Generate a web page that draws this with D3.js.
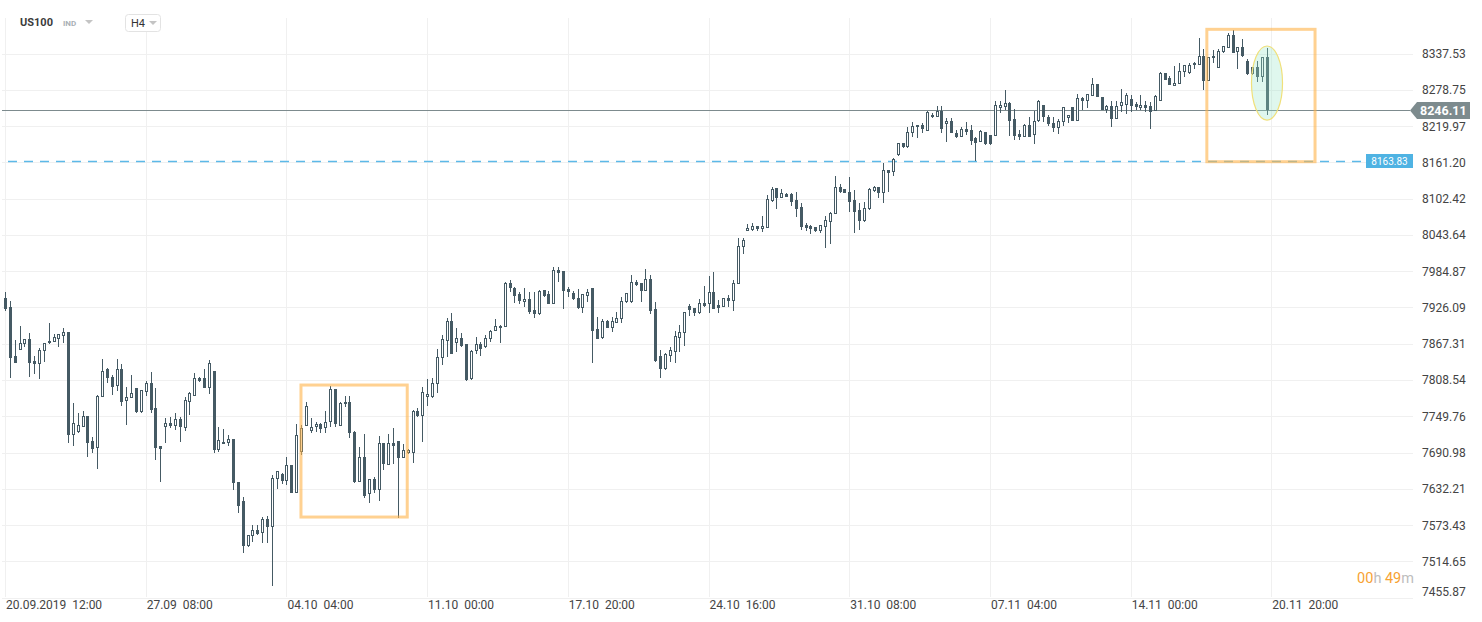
<!DOCTYPE html>
<html>
<head>
<meta charset="utf-8">
<script src="https://cdn.jsdelivr.net/npm/d3@7"></script>
<style>
  html, body { margin: 0; padding: 0; background: #fff; }
  svg { display: block; font-family: Roboto, "Open Sans", Arial, sans-serif; }
  text { white-space: pre; }
</style>
</head>
<body>
<svg width="1482" height="622"></svg>
<script>
// US100, H4 candles, 20.09.2019 12:00 -> 20.11.2019
const opens = [
  7940.8,7926.7,7847.3,7857.5,7866.2,7874.3,7839.2,7833.8,7855.4,7867.9,7869.5,7875.3,7880.2,7885.7,7719.7,7724.6,7732.6,7749.5,7709.0,7698.6,
  7780.3,7826.2,7813.3,7799.2,7826.2,7773.8,7778.7,7794.9,7757.0,7789.4,7803.0,7762.5,7701.4,7732.6,7738.2,7734.3,7744.7,7731.0,7773.2,7782.9,
  7811.1,7811.1,7794.9,7823.0,7695.7,7704.6,7705.8,7712.2,7642.6,7612.3,7539.8,7556.0,7565.2,7559.9,7582.6,7570.6,7647.4,7655.5,7645.2,7670.6,
  7625.7,7691.7,7733.8,7726.2,7731.7,7737.0,7730.1,7739.8,7793.8,7733.8,7768.9,7772.7,7724.6,7643.6,7683.1,7623.1,7647.9,7630.1,7705.8,7670.6,
  7705.8,7709.5,7682.4,7690.5,7689.5,7758.1,7750.0,7780.3,7781.3,7801.4,7843.5,7872.1,7904.0,7867.9,7876.0,7866.2,7810.0,7855.4,7866.2,7862.3,
  7874.8,7887.8,7895.9,7893.8,7965.1,7957.9,7947.2,7935.3,7939.6,7921.8,7914.8,7954.2,7947.2,7931.0,7986.6,7985.0,7955.8,7949.9,7941.7,7925.5,
  7945.0,7957.9,7891.0,7876.0,7904.0,7893.1,7901.2,7906.7,7934.3,7934.3,7966.7,7965.1,7953.1,7971.6,7922.9,7847.3,7825.7,7847.8,7854.2,7876.9,
  7884.1,7928.3,7924.6,7917.5,7932.7,7931.0,7950.5,7929.9,7926.2,7940.8,7936.9,7963.5,8024.4,8050.3,8051.5,8057.9,8053.1,8055.2,8098.9,8119.0,
  8103.8,8109.8,8109.8,8100.1,8089.2,8059.6,8057.9,8055.8,8049.9,8056.8,8064.9,8076.9,8120.7,8117.9,8113.5,8100.1,8083.9,8066.5,8085.0,8115.1,
  8120.7,8110.9,8148.7,8145.0,8173.0,8191.9,8185.5,8209.2,8217.9,8221.6,8211.9,8234.1,8235.1,8244.8,8222.8,8228.1,8209.2,8202.7,8214.6,8213.5,
  8200.1,8194.6,8209.8,8205.4,8203.8,8249.7,8251.3,8256.8,8230.9,8207.1,8202.7,8221.6,8205.4,8228.1,8254.1,8235.1,8224.4,8217.3,8226.0,8232.5,
  8250.3,8228.6,8264.9,8261.0,8269.1,8288.1,8266.5,8246.0,8253.0,8230.9,8253.0,8254.1,8263.3,8255.7,8249.7,8254.1,8252.4,8244.3,8261.0,8306.4,
  8297.3,8285.3,8287.6,8308.0,8306.4,8318.9,8318.9,8333.5,8293.4,8329.7,8314.5,8340.4,8346.9,8367.5,8339.5,8347.6,8325.9,8303.8,8315.2,8299.9,
  8331.4
];
const highs = [
  7950.5,7936.4,7873.2,7895.9,7874.3,7885.0,7847.3,7859.8,7867.9,7900.7,7882.4,7882.4,7892.2,7887.0,7770.6,7754.3,7758.1,7749.5,7716.5,7784.0,
  7841.9,7827.8,7816.5,7841.9,7833.8,7797.5,7816.5,7794.9,7791.7,7807.2,7821.3,7794.9,7701.4,7746.3,7747.9,7754.3,7747.9,7780.3,7789.4,7819.2,
  7813.3,7825.7,7840.8,7823.0,7732.6,7729.0,7719.2,7712.2,7642.6,7619.2,7557.1,7573.3,7573.3,7586.8,7587.9,7654.4,7660.9,7658.1,7683.1,7671.5,
  7736.6,7735.4,7773.2,7746.3,7740.8,7739.2,7758.1,7798.6,7793.8,7773.2,7782.4,7782.4,7726.0,7700.3,7720.8,7647.9,7651.7,7717.6,7705.8,7720.8,
  7730.1,7709.5,7704.6,7697.0,7759.7,7763.0,7797.5,7809.5,7812.2,7858.6,7881.3,7909.3,7916.4,7893.1,7884.0,7866.2,7857.0,7878.5,7869.5,7881.3,
  7889.4,7907.2,7897.5,7967.7,7970.4,7959.6,7950.5,7957.0,7951.5,7951.5,7954.0,7954.2,7952.6,7991.0,7992.0,7985.0,7959.6,7952.6,7955.3,7947.2,
  7955.3,7957.9,7910.0,7907.2,7905.6,7911.0,7918.1,7942.4,7949.4,7978.5,7970.4,7965.1,7987.8,7978.5,7935.3,7857.0,7852.0,7861.3,7888.3,7897.5,
  7918.1,7931.5,7924.6,7939.1,7960.7,7976.9,7982.9,7938.0,7941.0,7946.1,7970.4,8038.0,8039.0,8061.2,8062.3,8057.9,8074.2,8108.2,8121.6,8119.0,
  8117.4,8111.9,8111.9,8112.6,8094.7,8062.3,8059.6,8056.8,8059.6,8074.7,8081.1,8139.5,8126.0,8118.0,8136.9,8116.3,8094.7,8097.3,8119.0,8122.8,
  8120.7,8160.5,8148.7,8167.7,8193.0,8192.0,8218.9,8227.0,8221.1,8225.4,8244.8,8240.6,8252.4,8252.4,8233.5,8232.5,8213.5,8218.9,8226.0,8221.6,
  8202.7,8213.0,8210.0,8205.4,8261.0,8261.0,8278.4,8259.4,8247.1,8213.5,8222.8,8235.1,8244.8,8262.2,8254.1,8237.9,8234.1,8230.9,8250.3,8237.9,
  8250.5,8271.9,8267.5,8271.4,8298.3,8288.1,8266.5,8254.1,8260.5,8260.5,8279.5,8274.0,8270.3,8259.4,8270.3,8260.5,8259.4,8270.3,8308.0,8306.4,
  8301.6,8317.8,8321.6,8318.9,8321.6,8323.3,8362.2,8344.3,8332.0,8343.2,8344.3,8349.7,8370.2,8375.6,8347.6,8360.5,8328.1,8315.2,8325.9,8331.4,
  8345.9
];
const lows = [
  7920.2,7812.2,7836.0,7857.0,7862.3,7813.8,7818.6,7809.5,7838.1,7866.2,7869.5,7862.3,7867.9,7705.8,7701.9,7722.9,7732.6,7684.1,7690.5,7664.6,
  7780.3,7804.0,7784.0,7791.0,7766.7,7735.9,7778.7,7754.3,7754.3,7782.9,7754.3,7679.2,7643.1,7706.7,7731.0,7727.3,7708.4,7726.2,7751.6,7782.9,
  7805.6,7794.9,7785.7,7690.5,7692.2,7704.6,7701.9,7630.1,7592.3,7527.5,7537.2,7546.3,7557.1,7543.7,7543.7,7475.0,7631.7,7639.8,7638.2,7625.0,
  7624.7,7686.8,7733.8,7722.0,7724.6,7722.9,7722.9,7731.7,7731.7,7733.8,7765.1,7714.8,7642.0,7643.6,7616.6,7608.5,7624.7,7612.7,7662.5,7670.6,
  7672.2,7584.7,7681.4,7688.0,7673.3,7748.4,7708.4,7766.7,7778.7,7786.8,7832.7,7846.1,7850.0,7854.2,7862.3,7806.8,7809.0,7850.5,7847.7,7860.7,
  7869.5,7887.8,7868.8,7893.8,7950.5,7933.6,7931.5,7927.2,7915.3,7908.3,7913.0,7942.9,7931.0,7931.0,7966.7,7922.9,7942.4,7938.0,7922.9,7917.5,
  7935.3,7836.5,7874.3,7874.8,7893.1,7886.6,7900.2,7900.2,7934.0,7932.6,7960.7,7935.3,7952.0,7915.3,7838.1,7811.1,7824.0,7838.1,7835.4,7854.2,
  7864.0,7912.6,7912.1,7915.3,7927.0,7917.5,7922.9,7917.5,7926.0,7926.2,7920.6,7963.5,8012.6,8050.3,8050.3,8050.3,8048.7,8055.2,8097.3,8085.5,
  8103.8,8105.0,8090.4,8072.1,8051.5,8049.9,8044.9,8048.7,8047.1,8022.8,8028.8,8076.9,8111.9,8111.0,8081.1,8046.1,8051.5,8064.9,8083.9,8113.5,
  8103.8,8094.7,8113.5,8139.0,8171.4,8185.0,8183.9,8202.7,8201.1,8208.2,8211.9,8232.5,8235.1,8208.2,8194.6,8208.2,8200.1,8202.7,8205.4,8189.2,
  8163.83,8194.0,8190.0,8189.2,8203.8,8240.6,8246.0,8203.8,8197.3,8197.3,8202.7,8202.7,8190.9,8227.0,8227.0,8220.5,8210.8,8206.6,8220.5,8225.4,
  8228.0,8228.6,8246.0,8248.7,8269.1,8266.5,8246.0,8241.6,8218.9,8230.9,8243.2,8239.5,8243.2,8246.0,8246.0,8243.2,8215.1,8244.3,8261.0,8294.0,
  8286.5,8285.3,8287.6,8299.9,8303.8,8311.9,8318.9,8278.4,8293.0,8322.6,8314.5,8337.8,8346.9,8337.8,8311.9,8332.3,8302.7,8302.7,8291.8,8291.8,
  8237.9
];
const closes = [
  7923.4,7844.0,7836.5,7867.9,7874.3,7836.5,7833.8,7856.5,7867.9,7871.6,7877.6,7882.4,7885.7,7719.7,7738.2,7734.9,7749.5,7706.7,7697.0,7782.4,
  7822.5,7812.1,7797.5,7826.2,7772.2,7780.3,7786.8,7757.0,7791.7,7803.0,7760.2,7698.6,7697.0,7738.2,7733.8,7744.7,7732.6,7775.9,7786.8,7811.1,
  7807.2,7794.9,7835.4,7694.9,7710.6,7708.4,7712.2,7641.0,7604.6,7539.8,7557.1,7565.2,7558.8,7582.6,7570.6,7649.0,7660.9,7645.2,7670.6,7625.7,
  7719.2,7730.6,7766.2,7731.7,7737.0,7728.9,7740.8,7793.8,7737.0,7771.6,7772.7,7722.0,7643.6,7683.1,7620.9,7647.9,7630.1,7705.8,7672.2,7705.8,
  7701.4,7682.4,7694.9,7694.9,7758.1,7750.0,7788.4,7785.2,7803.0,7845.2,7874.3,7904.0,7850.0,7876.0,7864.0,7808.4,7855.8,7866.2,7858.1,7876.0,
  7887.8,7895.9,7892.2,7965.1,7957.9,7945.0,7936.9,7939.6,7919.1,7914.8,7952.6,7945.0,7931.0,7986.6,7982.2,7953.1,7951.5,7939.1,7925.5,7947.2,
  7950.5,7888.3,7874.3,7904.0,7893.1,7904.0,7908.3,7936.4,7948.9,7966.7,7962.3,7953.1,7971.6,7920.6,7839.2,7825.7,7850.5,7857.0,7879.7,7885.7,
  7918.1,7921.8,7917.5,7932.7,7928.3,7950.5,7922.9,7925.5,7940.8,7936.9,7965.1,8026.0,8035.3,8054.2,8057.9,8053.1,8057.9,8101.2,8117.9,8103.8,
  8110.9,8105.5,8097.3,8085.5,8056.8,8054.2,8053.1,8049.9,8059.6,8067.7,8079.5,8120.7,8113.5,8111.9,8097.3,8080.2,8066.5,8086.6,8117.4,8120.7,
  8110.9,8148.7,8144.4,8166.0,8191.9,8185.5,8210.8,8220.0,8221.1,8215.1,8243.2,8237.9,8244.8,8215.1,8228.1,8208.2,8201.7,8214.6,8210.8,8196.2,
  8192.9,8212.4,8190.4,8190.4,8254.1,8254.1,8256.8,8228.6,8204.3,8202.7,8221.6,8202.7,8228.6,8261.0,8234.1,8222.8,8217.3,8228.1,8250.3,8237.9,
  8228.6,8264.9,8261.0,8271.4,8288.1,8267.5,8246.0,8253.0,8231.4,8253.0,8258.4,8270.3,8252.4,8251.3,8254.1,8249.7,8243.2,8268.6,8306.4,8294.6,
  8286.5,8290.2,8309.6,8318.9,8318.9,8321.6,8333.5,8293.4,8331.4,8333.5,8342.1,8349.7,8367.5,8337.8,8347.6,8333.5,8303.8,8315.2,8299.9,8331.4,
  8246.11
];

// price axis ticks and time axis labels (one label every 29 bars)
const priceTicks = [8337.53, 8278.75, 8219.97, 8161.20, 8102.42, 8043.64, 7984.87, 7926.09,
                    7867.31, 7808.54, 7749.76, 7690.98, 7632.21, 7573.43, 7514.65, 7455.87];
const timeLabels = ["20.09.2019  12:00", "27.09  08:00", "04.10  04:00", "11.10  00:00", "17.10  20:00",
                    "24.10  16:00", "31.10  08:00", "07.11  04:00", "14.11  00:00", "20.11  20:00"];
const labelStep = 29;

const lastPrice = 8246.11;
const supportPrice = 8163.83;

// highlight boxes (bar index / price)
const boxFrom = [61, 247.7];
const boxTo = [82.9, 270];
const boxHigh = [7800.3, 8376.7];
const boxLow = [7586.4, 8162.2];

// ellipse around the last bar
const ellipseIdx = [256.9, 263.3];
const ellipsePrice = [8349.7, 8229.7];

const plotRight = 1413;
const plotTop = 18;
const plotBottom = 597;
const dark = "#455a64";
const gridColor = "#f0f0f0";

const svg = d3.select("svg");

const x = d3.scaleLinear().domain([0, 290]).range([5, 5 + 290 * 4.852]);
const y = d3.scaleLinear().domain([7455.87, 8337.53]).range([597.6, 53.5]);
const px = i => Math.round(x(i)) + 0.5;
const py = v => Math.round(y(v)) + 0.5;

// grid
const grid = svg.append("g").attr("class", "grid");
grid.selectAll("line.h")
  .data(priceTicks)
  .enter()
  .append("line")
  .attr("class", "h")
  .attr("x1", 2).attr("x2", plotRight)
  .attr("y1", d => py(d)).attr("y2", d => py(d))
  .attr("stroke", gridColor);

grid.selectAll("line.v")
  .data(timeLabels)
  .enter()
  .append("line")
  .attr("class", "v")
  .attr("x1", (d, i) => px(i * labelStep)).attr("x2", (d, i) => px(i * labelStep))
  .attr("y1", plotTop).attr("y2", plotBottom)
  .attr("stroke", gridColor);

// axes labels
svg.append("g")
  .selectAll("text")
  .data(priceTicks)
  .enter()
  .append("text")
  .attr("x", 1422)
  .attr("y", d => Math.min(y(d), 591) + 4.5)
  .style("font-size", "12px")
  .style("fill", "#444")
  .text(d => d.toFixed(2));

svg.append("g")
  .selectAll("text")
  .data(timeLabels)
  .enter()
  .append("text")
  .attr("x", (d, i) => x(i * labelStep) + 1)
  .attr("y", 609)
  .style("font-size", "12px")
  .style("fill", "#444")
  .text(d => d);

// support line
const sy = py(supportPrice);
svg.append("line")
  .attr("x1", 8).attr("x2", 1365)
  .attr("y1", sy).attr("y2", sy)
  .attr("stroke", "#5cb9e8")
  .attr("stroke-width", 1.5)
  .attr("stroke-dasharray", "9,7");

svg.append("rect")
  .attr("x", 1366).attr("y", sy - 7.5)
  .attr("width", 47).attr("height", 14)
  .attr("fill", "#4fb3e3");
svg.append("text")
  .attr("x", 1389.5).attr("y", sy + 3.5)
  .attr("text-anchor", "middle")
  .style("font-size", "10px")
  .style("fill", "#fff")
  .text(supportPrice.toFixed(2));

// last price line
const ly = py(lastPrice);
svg.append("line")
  .attr("x1", 2).attr("x2", 1410)
  .attr("y1", ly).attr("y2", ly)
  .attr("stroke", "#7d8b8e");

// candles
const candles = opens.map((o, i) => ({ i, o, h: highs[i], l: lows[i], c: closes[i] }));

const candle = svg.append("g")
  .attr("class", "candles")
  .selectAll("g")
  .data(candles)
  .enter()
  .append("g");

candle.append("line")
  .attr("x1", d => px(d.i)).attr("x2", d => px(d.i))
  .attr("y1", d => Math.round(y(d.h)))
  .attr("y2", d => Math.round(y(d.l)))
  .attr("stroke", dark);

candle.append("rect")
  .attr("x", d => d.c < d.o ? px(d.i) - 1.5 : px(d.i) - 1)
  .attr("width", d => d.c < d.o ? 3 : 2)
  .attr("y", d => d.c < d.o ? Math.round(y(d.o)) : Math.round(y(d.c)) + 0.5)
  .attr("height", d => {
    const hgt = Math.abs(Math.round(y(d.o)) - Math.round(y(d.c)));
    return d.c < d.o ? Math.max(hgt, 1) : Math.max(hgt - 1, 1);
  })
  .attr("fill", d => d.c < d.o ? dark : "#fff")
  .attr("stroke", d => d.c < d.o ? "none" : dark);

// annotations
svg.append("g")
  .selectAll("rect")
  .data(boxFrom)
  .enter()
  .append("rect")
  .attr("x", (d, k) => x(d))
  .attr("y", (d, k) => y(boxHigh[k]))
  .attr("width", (d, k) => x(boxTo[k]) - x(d))
  .attr("height", (d, k) => y(boxLow[k]) - y(boxHigh[k]))
  .attr("fill", "none")
  .attr("stroke", "#ffb347")
  .attr("stroke-opacity", 0.6)
  .attr("stroke-width", 3);

svg.append("ellipse")
  .attr("cx", (x(ellipseIdx[0]) + x(ellipseIdx[1])) / 2)
  .attr("cy", (y(ellipsePrice[0]) + y(ellipsePrice[1])) / 2)
  .attr("rx", (x(ellipseIdx[1]) - x(ellipseIdx[0])) / 2)
  .attr("ry", (y(ellipsePrice[1]) - y(ellipsePrice[0])) / 2)
  .attr("fill", "rgb(150,228,200)")
  .attr("fill-opacity", 0.3)
  .attr("stroke", "#f0e07a")
  .attr("stroke-width", 1.2);

// last price tag
svg.append("path")
  .attr("d", `M1410,${ly} L1417,${ly - 8.5} L1470,${ly - 8.5} L1470,${ly + 8.5} L1417,${ly + 8.5} Z`)
  .attr("fill", "#7d8b8e");
svg.append("text")
  .attr("x", 1420).attr("y", ly + 4.5)
  .style("font-size", "12.5px")
  .style("font-weight", "700")
  .style("fill", "#fff")
  .text(lastPrice.toFixed(2));

// header
const head = svg.append("g");
head.append("text")
  .attr("x", 20).attr("y", 26)
  .style("font-size", "11px").style("font-weight", "700").style("fill", "#3c3c3c")
  .text("US100");
head.append("text")
  .attr("x", 63).attr("y", 26)
  .style("font-size", "8px").style("font-weight", "700").style("fill", "#a9b0b5")
  .text("IND");
head.append("path").attr("d", "M85,20 L93,20 L89,24 Z").attr("fill", "#c4c4c4");
head.append("rect")
  .attr("x", 125.5).attr("y", 14.5).attr("width", 35).attr("height", 17).attr("rx", 3)
  .attr("fill", "#fff").attr("stroke", "#e3e3e3");
head.append("text")
  .attr("x", 131).attr("y", 27)
  .style("font-size", "11px").style("fill", "#333")
  .text("H4");
head.append("path").attr("d", "M149,21 L157,21 L153,25 Z").attr("fill", "#c4c4c4");

// candle countdown
const timer = svg.append("text")
  .attr("x", 1414).attr("y", 583)
  .attr("text-anchor", "end")
  .style("font-size", "14.5px");
timer.append("tspan").style("fill", "#f7a233").text("00");
timer.append("tspan").style("fill", "#bdbdbd").text("h ");
timer.append("tspan").style("fill", "#f7a233").text("49");
timer.append("tspan").style("fill", "#bdbdbd").text("m");
</script>
</body>
</html>
